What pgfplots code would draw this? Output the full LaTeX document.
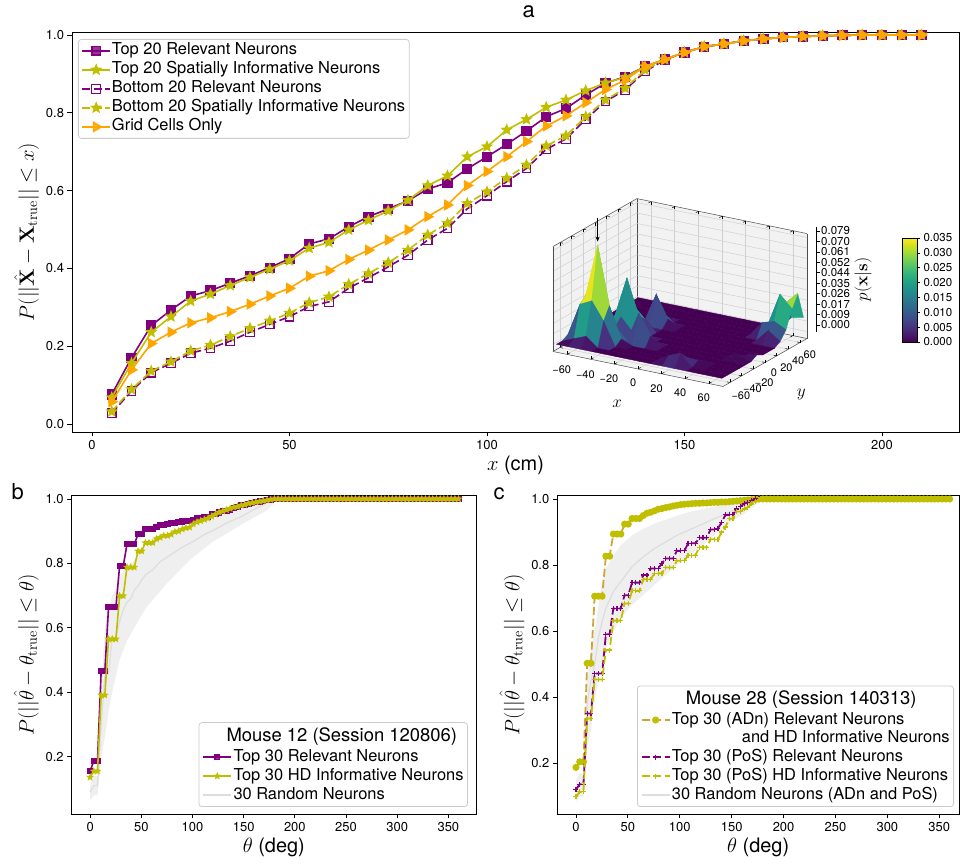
\documentclass[border=0pt]{standalone}
\usepackage[no-math]{fontspec}
\setmainfont{TeX Gyre Heros}
\usepackage{pgfplots}
\usepackage{pgfplotstable}
\pgfplotsset{compat=1.18}
\usetikzlibrary{arrows.meta}
\definecolor{mpurple}{HTML}{800080}
\definecolor{molive}{HTML}{BFBF00}
\definecolor{morange}{HTML}{FFA500}
\definecolor{adn}{HTML}{CFA636}
\definecolor{bandgrey}{HTML}{EFEFEF}
\definecolor{meangrey}{HTML}{DDDDDD}
\definecolor{legedge}{HTML}{CCCCCC}
\definecolor{panegrey}{HTML}{F2F2F2}
\definecolor{gridgrey}{HTML}{D0D0D0}
\newcommand{\ls}{\rule[-4.5bp]{0pt}{17bp}}
\pgfdeclareplotmark{fstar}{%
 \pgfpathmoveto{\pgfpointpolar{90}{\pgfplotmarksize}}%
 \pgfpathlineto{\pgfpointpolar{126}{0.45\pgfplotmarksize}}%
 \pgfpathlineto{\pgfpointpolar{162}{\pgfplotmarksize}}%
 \pgfpathlineto{\pgfpointpolar{198}{0.45\pgfplotmarksize}}%
 \pgfpathlineto{\pgfpointpolar{234}{\pgfplotmarksize}}%
 \pgfpathlineto{\pgfpointpolar{270}{0.45\pgfplotmarksize}}%
 \pgfpathlineto{\pgfpointpolar{306}{\pgfplotmarksize}}%
 \pgfpathlineto{\pgfpointpolar{342}{0.45\pgfplotmarksize}}%
 \pgfpathlineto{\pgfpointpolar{18}{\pgfplotmarksize}}%
 \pgfpathlineto{\pgfpointpolar{54}{0.45\pgfplotmarksize}}%
 \pgfpathclose
 \pgfusepathqfillstroke}
\pgfplotsset{
  mpl/.style={
    scale only axis,
    axis line style={line width=0.8bp},
    tick align=outside, tick pos=left,
    major tick length=4.5bp,
    major tick style={black, line width=0.8bp},
    tick label style={font=\fontsize{13}{15}\selectfont},
    /pgf/number format/assume math mode=true,
    yticklabel style={/pgf/number format/fixed, /pgf/number format/fixed zerofill, /pgf/number format/precision=1},
    label style={font=\fontsize{20}{22}\selectfont},
    legend cell align=left,
    legend style={draw=legedge, line width=0.8bp, rounded corners=3bp, fill=white, fill opacity=0.8, draw opacity=1, text opacity=1,
      font=\fontsize{16.5}{19}\selectfont, inner xsep=3bp, inner ysep=2bp, nodes={inner sep=1bp, text depth=},
      /tikz/every even column/.append style={column sep=7bp}},
    legend image code/.code={\draw[mark repeat=2,mark phase=2,##1] plot coordinates {(0bp,0bp) (14bp,0bp) (28bp,0bp)};},
    clip mode=individual,
  },
  geo3d/.style={at={(680bp,529bp)}, anchor=origin,
    x={(1.181bp,-0.243bp)}, y={(0.583bp,0.333bp)}, z={(0bp,1190bp)},
    xmin=-72, xmax=72, ymin=-72, ymax=72, zmin=-0.0059, zmax=0.0823, clip=false},
}

\pgfplotstableread{
x tr ts br bs gc
5 0.076 0.068 0.0275 0.032 0.057
10 0.170 0.156 0.085 0.089 0.139
15 0.253 0.236 0.132 0.136 0.207
20 0.293 0.276 0.156 0.160 0.236
25 0.329 0.316 0.182 0.188 0.260
30 0.343 0.334 0.195 0.203 0.273
35 0.362 0.356 0.213 0.225 0.289
40 0.381 0.377 0.236 0.246 0.308
45 0.402 0.398 0.256 0.265 0.329
50 0.425 0.420 0.276 0.285 0.349
55 0.463 0.452 0.302 0.312 0.380
60 0.476 0.467 0.314 0.327 0.394
65 0.507 0.499 0.349 0.359 0.423
70 0.533 0.524 0.376 0.387 0.447
75 0.553 0.548 0.404 0.415 0.473
80 0.574 0.575 0.434 0.447 0.499
85 0.604 0.613 0.473 0.486 0.533
90 0.620 0.638 0.503 0.516 0.563
95 0.656 0.687 0.553 0.567 0.613
100 0.687 0.713 0.587 0.597 0.649
105 0.719 0.756 0.623 0.632 0.687
110 0.753 0.783 0.657 0.666 0.726
115 0.790 0.814 0.706 0.715 0.766
120 0.811 0.833 0.733 0.741 0.792
125 0.846 0.857 0.783 0.790 0.826
130 0.876 0.877 0.829 0.833 0.860
135 0.893 0.891 0.859 0.863 0.884
140 0.919 0.919 0.906 0.910 0.919
145 0.937 0.937 0.936 0.937 0.937
150 0.955 0.955 0.955 0.955 0.955
155 0.970 0.970 0.970 0.970 0.970
160 0.977 0.977 0.977 0.977 0.977
165 0.985 0.985 0.985 0.985 0.985
170 0.990 0.990 0.990 0.990 0.990
175 0.994 0.994 0.994 0.994 0.994
180 0.996 0.996 0.996 0.996 0.996
185 0.998 0.998 0.998 0.998 0.998
190 0.999 0.999 0.999 0.999 0.999
195 1 1 1 1 1
200 1 1 1 1 1
205 1 1 1 1 1
210 1 1 1 1 1
}\dataA

\pgfplotstableread{
t br bh ca cr ch
0 0.155 0.136 0.188 0.121 0.099
3.6 0.187 0.155 0.205 0.137 0.114
7.2 0.187 0.155 0.205 0.137 0.114
10.8 0.466 0.391 0.503 0.351 0.336
14.4 0.466 0.391 0.503 0.351 0.336
18 0.664 0.565 0.706 0.472 0.454
21.6 0.664 0.565 0.706 0.472 0.454
25.2 0.664 0.565 0.706 0.472 0.454
28.8 0.792 0.699 0.827 0.591 0.543
32.4 0.792 0.699 0.827 0.591 0.543
36 0.859 0.788 0.894 0.669 0.632
39.6 0.859 0.788 0.894 0.669 0.632
43.2 0.859 0.788 0.894 0.669 0.632
46.8 0.891 0.838 0.924 0.709 0.684
50.4 0.891 0.838 0.924 0.709 0.684
54 0.907 0.864 0.941 0.747 0.722
57.6 0.907 0.864 0.941 0.747 0.722
61.2 0.907 0.864 0.941 0.747 0.722
64.8 0.914 0.876 0.950 0.770 0.757
68.4 0.920 0.880 0.957 0.770 0.757
72 0.920 0.886 0.960 0.790 0.757
75.6 0.922 0.886 0.964 0.790 0.775
79.2 0.926 0.890 0.969 0.790 0.775
82.8 0.926 0.898 0.971 0.805 0.775
86.4 0.928 0.900 0.974 0.820 0.793
90 0.930 0.906 0.976 0.820 0.793
93.6 0.932 0.910 0.979 0.820 0.793
97.2 0.932 0.912 0.981 0.843 0.813
100.8 0.934 0.922 0.983 0.843 0.813
104.4 0.940 0.928 0.984 0.843 0.813
108 0.940 0.932 0.985 0.866 0.830
111.6 0.942 0.936 0.986 0.866 0.830
115.2 0.944 0.940 0.987 0.866 0.830
118.8 0.952 0.946 0.987 0.883 0.854
122.4 0.952 0.952 0.988 0.883 0.854
126 0.958 0.958 0.988 0.883 0.854
129.6 0.962 0.962 0.989 0.908 0.878
133.2 0.962 0.966 0.990 0.908 0.878
136.8 0.966 0.970 0.990 0.911 0.878
140.4 0.972 0.974 0.991 0.930 0.900
144 0.976 0.976 0.991 0.952 0.915
147.6 0.980 0.980 0.992 0.952 0.940
151.2 0.980 0.982 0.993 0.952 0.940
154.8 0.984 0.986 0.994 0.970 0.962
158.4 0.988 0.988 0.995 0.977 0.962
162 0.990 0.990 0.996 0.986 0.970
165.6 0.992 0.992 0.997 0.990 0.975
169.2 0.994 0.994 0.998 0.995 0.985
172.8 0.996 0.996 0.999 1 0.992
176.4 0.998 0.998 1 1 0.998
180 1 1 1 1 1
183.6 1 1 1 1 1
187.2 1 1 1 1 1
190.8 1 1 1 1 1
194.4 1 1 1 1 1
198 1 1 1 1 1
201.6 1 1 1 1 1
205.2 1 1 1 1 1
208.8 1 1 1 1 1
212.4 1 1 1 1 1
216 1 1 1 1 1
219.6 1 1 1 1 1
223.2 1 1 1 1 1
226.8 1 1 1 1 1
230.4 1 1 1 1 1
234 1 1 1 1 1
237.6 1 1 1 1 1
241.2 1 1 1 1 1
244.8 1 1 1 1 1
248.4 1 1 1 1 1
252 1 1 1 1 1
255.6 1 1 1 1 1
259.2 1 1 1 1 1
262.8 1 1 1 1 1
266.4 1 1 1 1 1
270 1 1 1 1 1
273.6 1 1 1 1 1
277.2 1 1 1 1 1
280.8 1 1 1 1 1
284.4 1 1 1 1 1
288 1 1 1 1 1
291.6 1 1 1 1 1
295.2 1 1 1 1 1
298.8 1 1 1 1 1
302.4 1 1 1 1 1
306 1 1 1 1 1
309.6 1 1 1 1 1
313.2 1 1 1 1 1
316.8 1 1 1 1 1
320.4 1 1 1 1 1
324 1 1 1 1 1
327.6 1 1 1 1 1
331.2 1 1 1 1 1
334.8 1 1 1 1 1
338.4 1 1 1 1 1
342 1 1 1 1 1
345.6 1 1 1 1 1
349.2 1 1 1 1 1
352.8 1 1 1 1 1
356.4 1 1 1 1 1
360 1 1 1 1 1
}\dataBC

\pgfplotstableread{
x y z
-70 -70 0
-60 -70 0
-50 -70 0
-40 -70 0
-30 -70 0
-20 -70 0
-10 -70 0
0 -70 0
10 -70 0
20 -70 0
30 -70 0
40 -70 0
50 -70 0
60 -70 0
70 -70 0
-70 -60 0
-60 -60 0.004
-50 -60 0.008
-40 -60 0
-30 -60 0
-20 -60 0
-10 -60 0
0 -60 0
10 -60 0
20 -60 0.006
30 -60 0.010
40 -60 0
50 -60 0
60 -60 0
70 -60 0
-70 -50 0.003
-60 -50 0.030
-50 -50 0.035
-40 -50 0.020
-30 -50 0
-20 -50 0
-10 -50 0
0 -50 0
10 -50 0
20 -50 0
30 -50 0.004
40 -50 0.003
50 -50 0
60 -50 0
70 -50 0
-70 -40 0.005
-60 -40 0.035
-50 -40 0.079
-40 -40 0.030
-30 -40 0.004
-20 -40 0
-10 -40 0
0 -40 0
10 -40 0
20 -40 0
30 -40 0
40 -40 0
50 -40 0
60 -40 0
70 -40 0
-70 -30 0.003
-60 -30 0.035
-50 -30 0.035
-40 -30 0.010
-30 -30 0
-20 -30 0.025
-10 -30 0.008
0 -30 0
10 -30 0
20 -30 0
30 -30 0
40 -30 0
50 -30 0
60 -30 0
70 -30 0
-70 -20 0
-60 -20 0.008
-50 -20 0.006
-40 -20 0.015
-30 -20 0.004
-20 -20 0.010
-10 -20 0
0 -20 0
10 -20 0
20 -20 0
30 -20 0
40 -20 0
50 -20 0
60 -20 0.003
70 -20 0
-70 -10 0
-60 -10 0.004
-50 -10 0.012
-40 -10 0.045
-30 -10 0.015
-20 -10 0
-10 -10 0
0 -10 0
10 -10 0
20 -10 0
30 -10 0
40 -10 0
50 -10 0
60 -10 0
70 -10 0.003
-70 0 0
-60 0 0
-50 0 0.010
-40 0 0.020
-30 0 0.010
-20 0 0
-10 0 0
0 0 0
10 0 0
20 0 0
30 0 0
40 0 0
50 0 0
60 0 0
70 0 0
-70 10 0
-60 10 0
-50 10 0
-40 10 0.004
-30 10 0
-20 10 0
-10 10 0
0 10 0
10 10 0
20 10 0
30 10 0
40 10 0
50 10 0
60 10 0
70 10 0
-70 20 0
-60 20 0
-50 20 0
-40 20 0
-30 20 0.025
-20 20 0.006
-10 20 0
0 20 0
10 20 0
20 20 0
30 20 0
40 20 0
50 20 0
60 20 0
70 20 0
-70 30 0
-60 30 0
-50 30 0
-40 30 0
-30 30 0.008
-20 30 0
-10 30 0
0 30 0
10 30 0
20 30 0
30 30 0
40 30 0
50 30 0
60 30 0.010
70 30 0.003
-70 40 0
-60 40 0
-50 40 0
-40 40 0
-30 40 0
-20 40 0
-10 40 0
0 40 0
10 40 0
20 40 0
30 40 0
40 40 0
50 40 0.012
60 40 0.015
70 40 0.010
-70 50 0
-60 50 0
-50 50 0
-40 50 0
-30 50 0
-20 50 0
-10 50 0
0 50 0
10 50 0
20 50 0
30 50 0
40 50 0
50 50 0.008
60 50 0.035
70 50 0.025
-70 60 0
-60 60 0
-50 60 0
-40 60 0
-30 60 0
-20 60 0
-10 60 0
0 60 0
10 60 0
20 60 0
30 60 0
40 60 0
50 60 0.008
60 60 0.025
70 60 0.035
-70 70 0
-60 70 0
-50 70 0
-40 70 0
-30 70 0
-20 70 0
-10 70 0
0 70 0
10 70 0
20 70 0
30 70 0
40 70 0
50 70 0
60 70 0.010
70 70 0.012
}\dataS

\begin{document}
\begin{tikzpicture}
\useasboundingbox (0,0) rectangle (960bp,867bp);

% ---------------- panel a ----------------
\begin{axis}[mpl, at={(72bp,435bp)}, anchor=south west, width=887bp, height=400bp,
  xmin=-5.06, xmax=219.5, ymin=-0.0206, ymax=1.0077,
  xtick={0,50,100,150,200}, ytick={0,0.2,0.4,0.6,0.8,1.0},
  xlabel={$x$ (cm)},
  ylabel={$P(||\hat{\mathbf{X}}-\mathbf{X}_{\mathrm{true}}||\leq x)$},
  ylabel style={font=\fontsize{22}{24}\selectfont},
  legend style={at={(0.00676,0.9825)}, anchor=north west},
]
\addplot[mpurple, line width=1.6bp, mark=square*, mark size=4.3bp] table[x=x,y=tr] {\dataA};
\addlegendentry{\ls Top 20 Relevant Neurons}
\addplot[molive, line width=1.6bp, mark=fstar, mark size=4.4bp] table[x=x,y=ts] {\dataA};
\addlegendentry{\ls Top 20 Spatially Informative Neurons}
\addplot[mpurple, line width=1.6bp, dash pattern=on 8bp off 3.5bp, mark=square, mark size=4.3bp, mark options={solid, line width=1.2bp}] table[x=x,y=br] {\dataA};
\addlegendentry{\ls Bottom 20 Relevant Neurons}
\addplot[molive, line width=1.6bp, dash pattern=on 8bp off 3.5bp, mark=fstar, mark size=4.4bp, mark options={solid}] table[x=x,y=bs] {\dataA};
\addlegendentry{\ls Bottom 20 Spatially Informative Neurons}
\addplot[morange, line width=1.6bp, mark=triangle*, mark size=5bp, mark options={rotate=-90}] table[x=x,y=gc] {\dataA};
\addlegendentry{\ls Grid Cells Only}
\end{axis}

% ---------------- inset 3D: panes ----------------
\begin{axis}[geo3d, hide axis]
\addplot3[fill=panegrey, draw=none] coordinates {(-72,-72,-0.0059) (-72,72,-0.0059) (-72,72,0.0823) (-72,-72,0.0823)} -- cycle;
\addplot3[fill=panegrey, draw=none] coordinates {(-72,72,-0.0059) (72,72,-0.0059) (72,72,0.0823) (-72,72,0.0823)} -- cycle;
\addplot3[fill=panegrey, draw=none] coordinates {(-72,-72,-0.0059) (72,-72,-0.0059) (72,72,-0.0059) (-72,72,-0.0059)} -- cycle;
\end{axis}

% ---------------- inset 3D: surface ----------------
\begin{axis}[geo3d,
  grid=major, major grid style={draw=gridgrey, line width=0.5bp},
  axis line style={draw=black!70, line width=0.5bp},
  xtick={-60,-40,-20,0,20,40,60}, xticklabels={−60,−40,−20,0,20,40,60},
  ytick={-60,-40,-20,0,20,40,60}, yticklabels={−60,−40,−20,0,20,40,60},
  ztick={0,0.00878,0.01756,0.02633,0.03511,0.04389,0.05267,0.06144,0.07022,0.079},
  zticklabels={}, zmajorticks=false, scaled z ticks=false,
  tick label style={font=\fontsize{11}{12}\selectfont, inner sep=0.5bp},
  xticklabel style={xshift=-2bp, yshift=-9bp}, yticklabel style={xshift=5bp, yshift=-6bp},
  major tick style={black, line width=0.5bp}, major tick length=3bp,
  xlabel={$x$}, ylabel={$y$},
  xlabel style={yshift=-6bp, xshift=-4bp}, ylabel style={xshift=12bp, yshift=-2bp},
  label style={font=\fontsize{16}{18}\selectfont},
  colormap/viridis, point meta min=0, point meta max=0.035,
]
\addplot3[surf, shader=flat mean, mesh/rows=15, mesh/cols=15] table[x=x,y=y,z=z] {\dataS};
\draw[-{Stealth[length=5bp,width=4bp]}, line width=0.7bp] (axis cs:-50,-40,0.102) -- (axis cs:-50,-40,0.082);
\end{axis}

% z scale on the right
\begin{axis}[at={(815bp,535bp)}, anchor=south west, scale only axis, width=1bp, height=105bp,
  xmin=0, xmax=1, ymin=-0.0059, ymax=0.0823,
  axis x line=none, axis y line*=right, axis line style={line width=0.6bp},
  ytick={0,0.00878,0.01756,0.02633,0.03511,0.04389,0.05267,0.06144,0.07022,0.079},
  yticklabels={0.000,0.009,0.017,0.026,0.035,0.044,0.052,0.061,0.070,0.079},
  scaled y ticks=false, tick align=outside, major tick length=4bp,
  major tick style={black, line width=0.6bp},
  yticklabel style={font=\fontsize{11.5}{12}\selectfont, inner sep=1bp},
  ylabel={$p(\mathbf{x}|\mathbf{s})$}, ylabel style={font=\fontsize{16}{18}\selectfont},
]
\addplot[draw=none] coordinates {(0,0)};
\end{axis}

% colorbar
\begin{axis}[at={(902bp,525bp)}, anchor=south west, scale only axis, width=15bp, height=104bp,
  xmin=0, xmax=1, ymin=0, ymax=0.035, enlargelimits=false, axis on top,
  xtick=\empty, ytick={0,0.005,0.01,0.015,0.02,0.025,0.03,0.035}, scaled y ticks=false,
  ytick pos=right, yticklabel pos=right, tick align=outside, major tick length=3bp,
  major tick style={black, line width=0.5bp}, axis line style={line width=0.6bp},
  /pgf/number format/assume math mode=true,
  /pgf/number format/fixed, /pgf/number format/fixed zerofill, /pgf/number format/precision=3,
  yticklabel style={font=\fontsize{11.5}{12}\selectfont},
  colormap/viridis, point meta min=0, point meta max=0.035]
\addplot[surf, shader=interp, point meta=y, mesh/cols=2] coordinates {(0,0) (1,0) (0,0.035) (1,0.035)};
\end{axis}

% ---------------- panel b ----------------
\begin{axis}[mpl, at={(71.7bp,53bp)}, anchor=south west, width=404.3bp, height=318.3bp,
  xmin=-18, xmax=377, ymin=0.022, ymax=1.010,
  xtick={0,50,...,350}, ytick={0.2,0.4,0.6,0.8,1.0},
  xlabel={$\theta$ (deg)},
  ylabel={$P(||\hat{\theta}-\theta_{\mathrm{true}}||\leq\theta)$},
  ylabel style={font=\fontsize{22}{24}\selectfont},
  legend style={at={(0.980,0.022)}, anchor=south east},
]
\addlegendimage{empty legend}
\addlegendentry{\rule[-5bp]{0pt}{21bp}\hspace*{-7bp}\fontsize{18.5}{20}\selectfont Mouse 12 (Session 120806)}
\addplot[fill=bandgrey, draw=none, forget plot] coordinates {(0,0.11)(3.6,0.14)(7.2,0.14)(10.8,0.42)(14.4,0.6)(18,0.66)(21.6,0.7)(25.2,0.72)(28.8,0.76)(36,0.79)(43.2,0.81)(50.4,0.84)(57.6,0.86)(64.8,0.87)(72,0.88)(82.8,0.89)(93.6,0.905)(104.4,0.92)(118.8,0.94)(133.2,0.955)(147.6,0.97)(162,0.985)(172.8,0.998)(176.4,1)(360,1)
(360,1)(183.6,1)(172.8,0.965)(147.6,0.92)(118.8,0.865)(97.2,0.81)(75.6,0.74)(54,0.66)(43.2,0.6)(36,0.56)(28.8,0.5)(25.2,0.45)(21.6,0.4)(18,0.34)(14.4,0.26)(10.8,0.2)(7.2,0.08)(3.6,0.08)(0,0.065)} -- cycle;
\addplot[meangrey, line width=1.2bp, forget plot] coordinates {(0,0.09)(3.6,0.11)(7.2,0.11)(10.8,0.30)(14.4,0.45)(18,0.46)(21.6,0.57)(25.2,0.57)(28.8,0.62)(32.4,0.655)(36,0.68)(39.6,0.69)(43.2,0.717)(46.8,0.73)(50.4,0.748)(54,0.764)(61.2,0.78)(68.4,0.805)(75.6,0.82)(82.8,0.835)(90,0.85)(97.2,0.862)(104.4,0.875)(111.6,0.89)(118.8,0.90)(126,0.912)(133.2,0.925)(140.4,0.935)(147.6,0.945)(154.8,0.958)(162,0.97)(169.2,0.982)(176.4,0.995)(180,1)(360,1)};
\addplot[mpurple, line width=1.6bp, mark=square*, mark size=2.3bp] table[x=t,y=br] {\dataBC};
\addlegendentry{\ls Top 30 Relevant Neurons}
\addplot[molive, line width=1.6bp, mark=fstar, mark size=2bp] table[x=t,y=bh] {\dataBC};
\addlegendentry{\ls Top 30 HD Informative Neurons}
\addlegendimage{meangrey, line width=2.5bp}
\addlegendentry{\ls 30 Random Neurons}
\end{axis}

% ---------------- panel c ----------------
\begin{axis}[mpl, at={(557.3bp,53bp)}, anchor=south west, width=401.7bp, height=318.3bp,
  xmin=-18, xmax=369, ymin=0.047, ymax=1.010,
  xtick={0,50,...,350}, ytick={0.2,0.4,0.6,0.8,1.0},
  xlabel={$\theta$ (deg)},
  ylabel={$P(||\hat{\theta}-\theta_{\mathrm{true}}||\leq\theta)$},
  ylabel style={font=\fontsize{22}{24}\selectfont},
  legend style={at={(0.9876,0.022)}, anchor=south east},
]
\addlegendimage{empty legend}
\addlegendentry{\rule[-5bp]{0pt}{21bp}\hspace*{14bp}\fontsize{18.5}{20}\selectfont Mouse 28 (Session 140313)}
\addplot[fill=bandgrey, draw=none, forget plot] coordinates {(0,0.15)(3.6,0.17)(7.2,0.17)(10.8,0.45)(14.4,0.55)(18,0.6)(21.6,0.68)(25.2,0.75)(28.8,0.79)(36,0.83)(43.2,0.86)(54,0.89)(64.8,0.91)(79.2,0.93)(93.6,0.945)(108,0.96)(122.4,0.97)(136.8,0.98)(151.2,0.99)(165.6,0.998)(172.8,1)(360,1)
(360,1)(180,1)(172.8,0.98)(162,0.955)(151.2,0.935)(140.4,0.91)(129.6,0.88)(118.8,0.85)(108,0.83)(97.2,0.8)(86.4,0.77)(75.6,0.74)(64.8,0.71)(54,0.68)(43.2,0.64)(36,0.6)(28.8,0.55)(21.6,0.45)(18,0.39)(14.4,0.3)(10.8,0.25)(7.2,0.1)(3.6,0.1)(0,0.085)} -- cycle;
\addplot[meangrey, line width=1.2bp, forget plot] coordinates {(0,0.12)(3.6,0.14)(7.2,0.14)(10.8,0.38)(14.4,0.45)(18,0.5)(21.6,0.58)(25.2,0.63)(28.8,0.67)(36,0.72)(43.2,0.75)(54,0.795)(64.8,0.825)(75.6,0.85)(86.4,0.87)(97.2,0.89)(108,0.905)(118.8,0.92)(129.6,0.935)(140.4,0.95)(151.2,0.965)(162,0.98)(172.8,0.995)(180,1)(360,1)};
\addplot[adn, line width=1.8bp, dash pattern=on 8bp off 3.5bp, mark=*, mark size=2.6bp, mark options={solid, fill=molive, draw=molive}] table[x=t,y=ca] {\dataBC};
\addlegendentry{\rule[-3.5bp]{0pt}{16bp}Top 30 (ADn) Relevant Neurons}
\addlegendimage{empty legend}
\addlegendentry{\rule[-4.5bp]{0pt}{14.5bp}\hspace*{70bp}and HD Informative Neurons}
\addplot[mpurple, line width=1.8bp, dash pattern=on 8bp off 3.5bp, mark=+, mark size=2.5bp, mark options={solid, line width=1.2bp}] table[x=t,y=cr] {\dataBC};
\addlegendentry{\ls Top 30 (PoS) Relevant Neurons}
\addplot[molive, line width=1.8bp, dash pattern=on 8bp off 3.5bp, mark=+, mark size=2.5bp, mark options={solid, line width=1.2bp}] table[x=t,y=ch] {\dataBC};
\addlegendentry{\ls Top 30 (PoS) HD Informative Neurons}
\addlegendimage{meangrey, line width=2.5bp}
\addlegendentry{\ls 30 Random Neurons (ADn and PoS)}
\end{axis}

\node[anchor=base west, font=\fontsize{22}{24}\selectfont] at (519bp,849bp) {a};
\node[anchor=base west, font=\fontsize{22}{24}\selectfont] at (8bp,367bp) {b};
\node[anchor=base west, font=\fontsize{22}{24}\selectfont] at (490bp,367bp) {c};
\end{tikzpicture}
\end{document}
